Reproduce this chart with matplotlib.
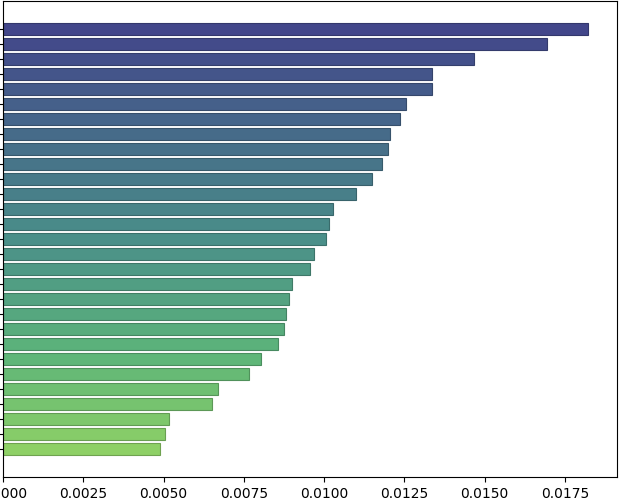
import numpy as np
import matplotlib.pyplot as plt
from matplotlib.colors import LinearSegmentedColormap, to_rgb

# features sorted by score (top to bottom); their names are off the visible canvas
features = [f'feature_{i + 1}' for i in range(29)]
scores = [0.01821, 0.01695, 0.01468, 0.01336, 0.01336, 0.01255, 0.01235,
          0.01205, 0.01198, 0.01179, 0.01149, 0.01098, 0.01029, 0.01015,
          0.01006, 0.00970, 0.00957, 0.00900, 0.00892, 0.00881, 0.00874,
          0.00857, 0.00804, 0.00766, 0.00671, 0.00651, 0.00517, 0.00504,
          0.00488]

# muted viridis-like gradient, indigo -> teal -> green
cmap = LinearSegmentedColormap.from_list(
    'muted', [(0, '#42468a'), (0.5, '#4a8f89'), (0.78, '#5db579'), (1, '#8ed066')])
colors = cmap(np.linspace(0, 1, len(scores)))
edges = [tuple(c * 0.78 for c in to_rgb(col)) for col in colors]

fig = plt.figure(figsize=(6.25, 5), dpi=100)
ax = fig.add_axes([0.0048, 0.046, 0.9824, 0.952])

y = np.arange(len(scores))
ax.barh(y, scores, height=0.8, color=colors, edgecolor=edges, linewidth=0.8)
ax.set_yticks(y)
ax.set_yticklabels(features)
ax.tick_params(axis='y', labelleft=False)
ax.invert_yaxis()
ax.set_xlabel('Mean Absolute Score')

fig.savefig('out.png', dpi=100)
